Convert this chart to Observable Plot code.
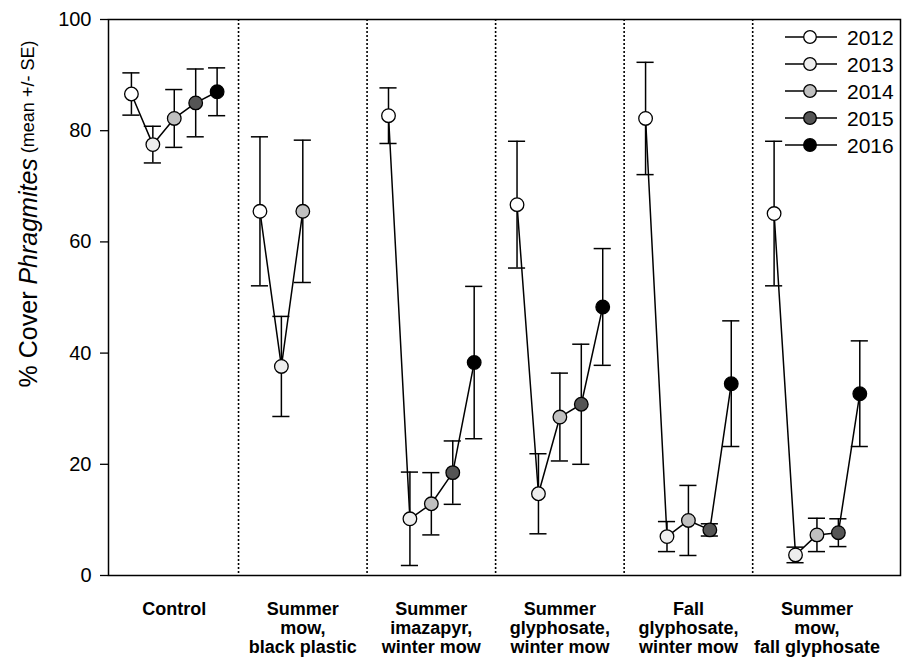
<!DOCTYPE html>
<html><head><meta charset="utf-8">
<script src="https://cdn.jsdelivr.net/npm/d3@7"></script>
<script src="https://cdn.jsdelivr.net/npm/@observablehq/plot@0.6"></script>
<style>body{margin:0;background:#fff;} svg{display:block;}</style>
</head><body><div id="chart"></div>
<script>
const treatments = [
  "Control",
  "Summer\nmow,\nblack plastic",
  "Summer\nimazapyr,\nwinter mow",
  "Summer\nglyphosate,\nwinter mow",
  "Fall\nglyphosate,\nwinter mow",
  "Summer\nmow,\nfall glyphosate"
];
const years = [2012, 2013, 2014, 2015, 2016];
const yearFill = ["#ffffff", "#eeeeee", "#c0c0c0", "#555555", "#000000"];
const yTicks = [0, 20, 40, 60, 80, 100];

// mean % cover by year (2012..2016), null = not sampled
const meanControl      = [86.6, 77.5, 82.2, 85.0, 87.0];
const meanBlackPlastic = [65.5, 37.6, 65.5, null, null];
const meanImazapyr     = [82.7, 10.2, 12.9, 18.5, 38.3];
const meanSumGly       = [66.7, 14.7, 28.5, 30.8, 48.3];
const meanFallGly      = [82.2, 7.0, 9.9, 8.2, 34.5];
const meanMowFallGly   = [65.1, 3.7, 7.3, 7.7, 32.7];

// standard errors
const seControl      = [3.8, 3.3, 5.2, 6.1, 4.3];
const seBlackPlastic = [13.4, 9.0, 12.8, null, null];
const seImazapyr     = [5.0, 8.4, 5.6, 5.7, 13.7];
const seSumGly       = [11.4, 7.2, 7.9, 10.8, 10.5];
const seFallGly      = [10.1, 2.7, 6.3, 1.1, 11.3];
const seMowFallGly   = [13.0, 1.4, 3.0, 2.5, 9.5];

const means = [meanControl, meanBlackPlastic, meanImazapyr, meanSumGly, meanFallGly, meanMowFallGly];
const ses = [seControl, seBlackPlastic, seImazapyr, seSumGly, seFallGly, seMowFallGly];

const rows = [];
treatments.forEach((t, g) => years.forEach((yr, k) => {
  const m = means[g][k];
  if (m == null) return;
  const s = ses[g][k];
  rows.push({g, t, year: yr, u: g * 6 + k + 1, mean: m, lo: m - s, hi: m + s});
}));
const separators = treatments.slice(1).map((t, i) => (i + 1) * 6);

const chart = Plot.plot({
  width: 902, height: 657,
  marginLeft: 108, marginRight: 2, marginTop: 19, marginBottom: 82,
  style: {fontFamily: "'Liberation Sans', Arial, sans-serif", fontSize: "20px", color: "black", background: "white"},
  x: {domain: [-0.07, 36.9], axis: null},
  y: {domain: [0, 100], axis: null},
  color: {type: "ordinal", domain: years, range: yearFill},
  marks: [
    Plot.ruleX(separators, {stroke: "black", strokeWidth: 1.6, strokeDasharray: "2,2"}),
    Plot.line(rows, {x: "u", y: "mean", z: "g", stroke: "black", strokeWidth: 1.5}),
    Plot.ruleX(rows, {x: "u", y1: "lo", y2: "hi", stroke: "black", strokeWidth: 1.5}),
    Plot.ruleY(rows, {y: "hi", x1: d => d.u - 0.4, x2: d => d.u + 0.4, stroke: "black", strokeWidth: 1.5}),
    Plot.ruleY(rows, {y: "lo", x1: d => d.u - 0.4, x2: d => d.u + 0.4, stroke: "black", strokeWidth: 1.5}),
    Plot.dot(rows, {x: "u", y: "mean", r: 6.8, fill: "year", stroke: "black", strokeWidth: 1.3}),
    Plot.axisY({ticks: yTicks, tickSize: 8, tickPadding: 9, label: null, fontSize: 20, strokeWidth: 1.3}),
    Plot.text(treatments, {x: (d, i) => i * 6 + 3, frameAnchor: "bottom", lineAnchor: "top", dy: 26,
      fontWeight: "bold", fontSize: 18, lineHeight: 1.06}),
    Plot.frame({stroke: "black", strokeWidth: 1.5})
  ]
});

const svg = d3.select(chart);
// y-axis title
const yl = svg.append("text")
  .attr("transform", "translate(28,214) rotate(-90)")
  .attr("text-anchor", "middle")
  .attr("dominant-baseline", "central")
  .attr("fill", "black")
  .style("font-family", "'Liberation Sans', Arial, sans-serif");
yl.append("tspan").attr("font-size", 25).text("% Cover ");
yl.append("tspan").attr("font-size", 25).attr("font-style", "italic").text("Phragmites");
yl.append("tspan").attr("font-size", 18).text(" (mean +/- SE)");

// legend
const lg = svg.append("g").style("font-family", "'Liberation Sans', Arial, sans-serif");
years.forEach((yr, i) => {
  const cy = 37 + 27 * i;
  lg.append("line").attr("x1", 785).attr("x2", 837).attr("y1", cy).attr("y2", cy)
    .attr("stroke", "black").attr("stroke-width", 1.5);
  lg.append("circle").attr("cx", 810).attr("cy", cy).attr("r", 6.3)
    .attr("fill", yearFill[i]).attr("stroke", "black").attr("stroke-width", 1.3);
  lg.append("text").attr("x", 847).attr("y", cy).attr("dominant-baseline", "central")
    .attr("text-anchor", "start")
    .attr("font-size", 21).attr("fill", "black").text(yr);
});

document.getElementById("chart").appendChild(chart);
</script>
</body></html>
